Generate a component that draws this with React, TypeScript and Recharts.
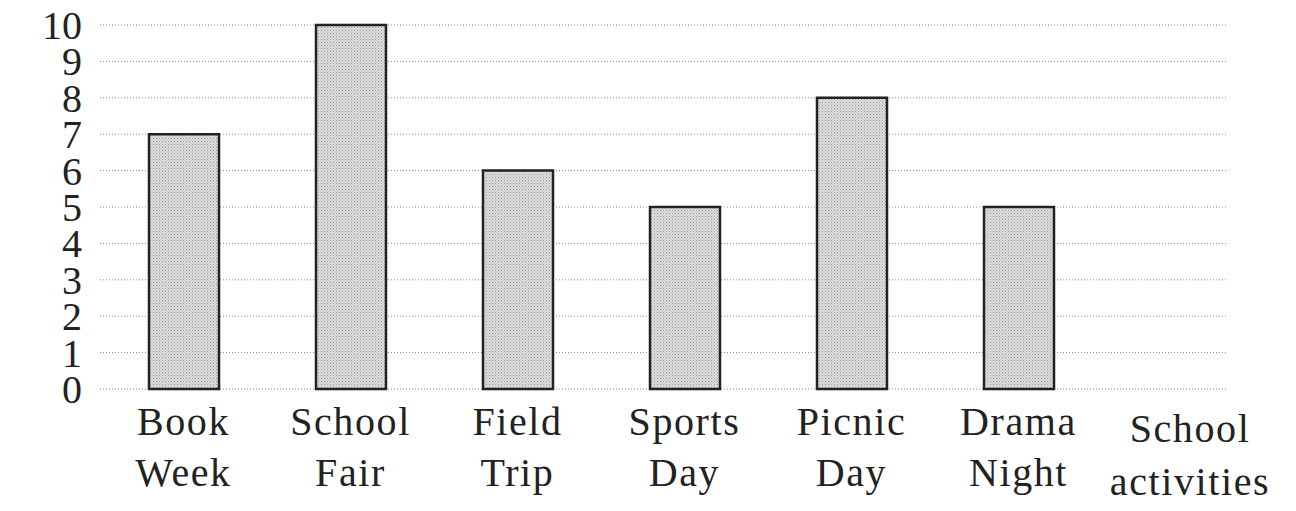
import React from "react";
import { BarChart, Bar, XAxis, YAxis, CartesianGrid } from "recharts";

// categories, first and second label line
const activities = ["Book Week", "School Fair", "Field Trip", "Sports Day", "Picnic Day", "Drama Night"];
const labelTop = ["Book", "School", "Field", "Sports", "Picnic", "Drama"];
const labelBottom = ["Week", "Fair", "Trip", "Day", "Day", "Night"];
const counts = [7, 10, 6, 5, 8, 5];
const yTicks = [0, 1, 2, 3, 4, 5, 6, 7, 8, 9, 10];

const data = activities.map((name, i) => ({
  name,
  top: labelTop[i],
  bottom: labelBottom[i],
  value: counts[i],
}));

const FONT = "'Liberation Serif', 'DejaVu Serif', serif";
const INK = "#222";

const YTick = ({ x, y, payload }: any) => (
  <text x={x} y={y + 14} textAnchor="end" fontFamily={FONT} fontSize={40} fill={INK}>
    {payload.value}
  </text>
);

const XTick = ({ x, y, index }: any) => {
  const d = data[index];
  if (!d) return null;
  return (
    <g>
      <text x={x} y={y + 46} textAnchor="middle" fontFamily={FONT} fontSize={40} letterSpacing={1.6} fill={INK}>
        {d.top}
      </text>
      <text x={x} y={y + 97} textAnchor="middle" fontFamily={FONT} fontSize={40} letterSpacing={1.6} fill={INK}>
        {d.bottom}
      </text>
    </g>
  );
};

const AxisTitle = ({ viewBox }: any) => {
  const cx = viewBox.x + viewBox.width - 36;
  return (
    <g>
      <text x={cx} y={viewBox.y + 53} textAnchor="middle" fontFamily={FONT} fontSize={40} letterSpacing={1.6} fill={INK}>
        School
      </text>
      <text x={cx} y={viewBox.y + 106} textAnchor="middle" fontFamily={FONT} fontSize={40} letterSpacing={1.6} fill={INK}>
        activities
      </text>
    </g>
  );
};

export default function App() {
  return (
    <div style={{ position: "absolute", left: 0, top: 0, width: 1296, height: 511, background: "#fff" }}>
      <svg width={0} height={0} style={{ position: "absolute" }}>
        <defs>
          <pattern id="stipple" width={3} height={3} patternUnits="userSpaceOnUse">
            <rect width={3} height={3} fill="#dedede" />
            <rect x={0} y={0} width={1} height={1} fill="#9a9a9a" />
            <rect x={1.5} y={1.5} width={1} height={1} fill="#b0b0b0" />
          </pattern>
        </defs>
      </svg>
      <BarChart
        width={1296}
        height={511}
        data={data}
        margin={{ top: 25, right: 70, bottom: 0, left: 0 }}
        barSize={70}
      >
        <CartesianGrid vertical={false} stroke="#8a8a8a" strokeDasharray="1 2" />
        <YAxis
          width={100}
          domain={[0, 10]}
          ticks={yTicks}
          interval={0}
          axisLine={false}
          tickLine={false}
          tickSize={0}
          tickMargin={18}
          tick={<YTick />}
        />
        <XAxis
          dataKey="name"
          height={122}
          axisLine={false}
          tickLine={false}
          tickSize={0}
          tickMargin={0}
          interval={0}
          padding={{ left: 0, right: 124 }}
          tick={<XTick />}
          label={{ value: "School activities", content: <AxisTitle /> }}
        />
        <Bar dataKey="value" fill="url(#stipple)" stroke={INK} strokeWidth={2.5} isAnimationActive={false} />
      </BarChart>
    </div>
  );
}
